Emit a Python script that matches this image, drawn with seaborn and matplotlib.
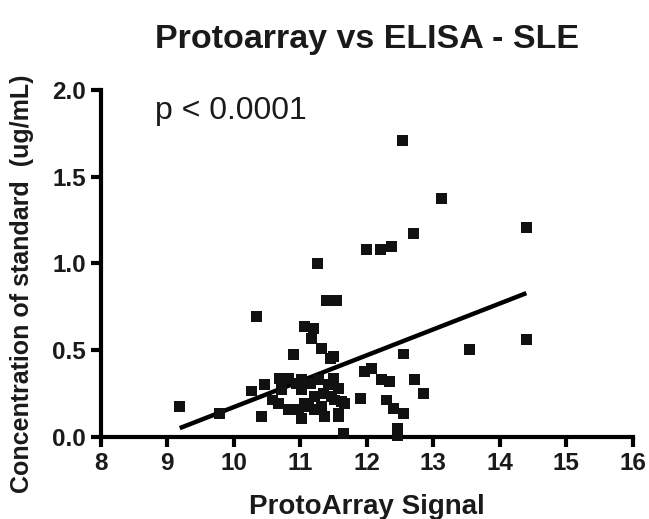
import matplotlib
matplotlib.use("Agg")
import matplotlib.pyplot as plt
import seaborn as sns
import numpy as np
import pandas as pd

signal = [9.19, 9.79, 10.34, 10.27, 10.47, 10.42, 10.69, 10.82, 10.59, 10.72,
          11.02, 10.67, 11.07, 10.82, 10.97, 10.94, 11.02, 11.15, 11.27, 11.35,
          11.22, 11.42, 11.52, 11.57, 11.12, 11.22, 11.32, 11.02, 11.37, 10.90,
          11.07, 11.20, 11.17, 11.32, 11.45, 11.50, 11.26, 11.40, 11.55, 11.97,
          12.07, 12.22, 12.35, 12.72, 12.85, 11.90, 12.30, 12.40, 12.55, 11.50,
          11.57, 11.47, 11.62, 11.67, 11.57, 11.65, 12.47, 12.47, 12.55, 13.55,
          14.40, 14.40, 12.70, 12.00, 12.21, 12.37, 13.12, 12.54]
conc = [0.175, 0.136, 0.693, 0.265, 0.300, 0.117, 0.338, 0.338, 0.213, 0.271,
        0.271, 0.194, 0.194, 0.156, 0.156, 0.309, 0.329, 0.309, 0.329, 0.252,
        0.232, 0.300, 0.213, 0.136, 0.175, 0.156, 0.175, 0.107, 0.117, 0.473,
        0.636, 0.626, 0.569, 0.511, 0.454, 0.463, 1.000, 0.786, 0.786, 0.376,
        0.396, 0.329, 0.319, 0.329, 0.252, 0.223, 0.213, 0.165, 0.136, 0.338,
        0.281, 0.232, 0.204, 0.194, 0.117, 0.020, 0.050, 0.010, 0.478, 0.505,
        0.559, 1.206, 1.174, 1.082, 1.082, 1.100, 1.376, 1.708]

x_ticks = [8, 9, 10, 11, 12, 13, 14, 15, 16]
y_ticks = [0.0, 0.5, 1.0, 1.5, 2.0]
y_ticklabels = ["0.0", "0.5", "1.0", "1.5", "2.0"]

df = pd.DataFrame({"signal": signal, "conc": conc})

sns.set_theme(style="ticks")
plt.rcParams['font.family'] = ['Liberation Sans', 'DejaVu Sans']

fig = plt.figure(figsize=(6.49, 5.19), dpi=100)
ax = fig.add_axes([0.155, 0.158, 0.820, 0.669])

sns.regplot(data=df, x="signal", y="conc", scatter=False, ci=None, truncate=True,
            line_kws=dict(color="black", lw=3.2, solid_capstyle="butt"), ax=ax)
sns.scatterplot(data=df, x="signal", y="conc", marker="s", s=62, color="#111111",
                edgecolor="none", clip_on=False, ax=ax, zorder=3)

ax.set_xlim(8, 16)
ax.set_ylim(0, 2.0)
ax.set_xticks(x_ticks)
ax.set_yticks(y_ticks)
ax.set_yticklabels(y_ticklabels)
for lab in ax.get_xticklabels() + ax.get_yticklabels():
    lab.set_fontweight("bold")
    lab.set_fontsize(17.5)
    lab.set_color("#1a1a1a")
ax.tick_params(axis="both", width=3, length=7.5, color="black", pad=3)
for sp in ["left", "bottom"]:
    ax.spines[sp].set_linewidth(3)
    ax.spines[sp].set_color("black")
sns.despine(ax=ax)

ax.set_xlabel("ProtoArray Signal", fontsize=20, fontweight="bold", color="#1a1a1a", labelpad=14)
ax.set_ylabel("Concentration of standard  (ug/mL)", fontsize=18, fontweight="bold",
              color="#1a1a1a")
ax.yaxis.set_label_coords(-0.126, 0.44)
ax.set_title("Protoarray vs ELISA - SLE", fontsize=24.5, fontweight="bold",
             color="#1a1a1a", pad=30)
ax.text(8.82, 1.875, "p < 0.0001", fontsize=23, color="#1a1a1a", va="center", ha="left")

fig.savefig("out.png", dpi=100)
